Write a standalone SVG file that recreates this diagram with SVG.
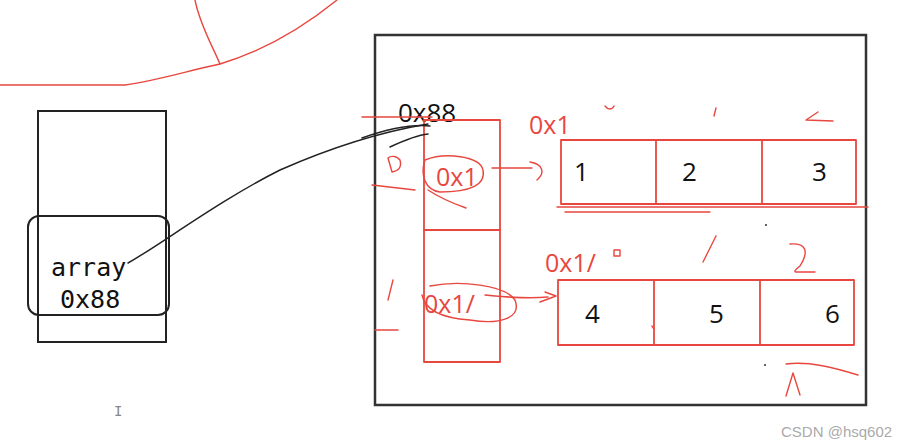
<svg xmlns="http://www.w3.org/2000/svg" width="910" height="445" viewBox="0 0 910 445">
<style>
.blk{fill:none;stroke:#222;stroke-width:2}
.red{fill:none;stroke:#e8473f;stroke-width:1.8;stroke-linecap:round;stroke-linejoin:round}
.redthin{fill:none;stroke:#e8473f;stroke-width:1.4;stroke-linecap:round;stroke-linejoin:round}
.ink{fill:none;stroke:#222;stroke-width:1.5;stroke-linecap:round}
.num{font-family:"Open Sans","Noto Sans",sans-serif;font-size:26px;fill:#111}
.rtxt{font-family:"Open Sans","Noto Sans",sans-serif;font-size:25px;fill:#e8473f}
.mono{font-family:"DejaVu Sans Mono",monospace;font-size:25px;fill:#111}
</style>
<rect width="910" height="445" fill="#fff"/>
<g id="sketch-top">
<path class="redthin" d="M0,85 L125,85 C160,80 190,70 220,64 C260,52 300,30 337,0"/>
<path class="redthin" d="M195,0 C200,25 212,45 220,64"/>
</g>
<g id="stack">
<rect x="38" y="111" width="128" height="231" class="blk"/>
<rect x="28" y="216" width="141" height="99" rx="11" class="blk"/>
<text x="51" y="276" class="mono">array</text>
<text x="60" y="308" class="mono">0x88</text>
</g>
<g id="heap">
<rect x="375" y="35" width="491" height="370" fill="none" stroke="#333" stroke-width="2.5"/>
<text x="398" y="122" font-family="Open Sans,Noto Sans,sans-serif" font-size="26" fill="#111">0x88</text>
</g>
<g id="outer-array">
<rect x="424" y="120" width="76" height="242" class="red"/>
<line x1="424" y1="230" x2="500" y2="230" class="red"/>
<text x="436" y="186" class="rtxt">0x1</text>
<text x="424" y="313" class="rtxt">0x1/</text>
</g>
<g id="row1">
<rect x="561" y="140" width="295" height="64" class="red"/>
<line x1="656" y1="140" x2="656" y2="204" class="red"/>
<line x1="762" y1="140" x2="762" y2="204" class="red"/>
<text x="529" y="134" class="rtxt">0x1</text>
<text x="574" y="181" class="num">1</text>
<text x="682" y="181" class="num">2</text>
<text x="812" y="181" class="num">3</text>
</g>
<g id="row2">
<rect x="558" y="280" width="296" height="65" class="red"/>
<line x1="654" y1="280" x2="654" y2="345" class="red"/>
<line x1="760" y1="280" x2="760" y2="345" class="red"/>
<text x="545" y="272" class="rtxt">0x1/</text>
<text x="585" y="323" class="num">4</text>
<text x="709" y="323" class="num">5</text>
<text x="825" y="323" class="num">6</text>
</g>
<g id="connectors">
<path class="ink" d="M128,263 C160,245 220,200 280,170 C330,148 380,132 428,124"/>
<path class="ink" d="M362,138 C385,130 410,124 430,126"/>
<path class="ink" d="M390,147 C405,140 418,135 428,134"/>
<path class="redthin" d="M492,168 L532,168 M530,162 C542,164 546,172 537,180"/>
<path class="redthin" d="M485,295 C505,297 525,299 548,297 M545,292 L556,296 L540,302"/>
</g>
<g id="scribbles">
<path class="redthin" d="M362,117 L432,117"/>
<path class="redthin" d="M388,158 L392,172 C398,171 402,168 400,160 C396,155 390,156 388,158"/>
<path class="redthin" d="M372,185 L415,190"/>
<path class="redthin" d="M425,160 C445,152 480,156 483,170 C486,185 470,192 440,192 C425,190 420,175 425,160"/>
<path class="redthin" d="M428,190 C440,198 452,203 466,208"/>
<path class="redthin" d="M430,286 C460,280 505,285 515,300 C522,318 500,325 470,320 C440,318 425,310 422,295"/>
<path class="redthin" d="M557,207 L868,207 M565,212 L710,212"/>
<path class="redthin" d="M605,106 C608,110 612,110 614,106"/>
<path class="redthin" d="M716,108 L714,116"/>
<path class="redthin" d="M818,112 L806,120 L833,121"/>
<path class="redthin" d="M716,236 L703,262"/>
<path class="redthin" d="M790,244 C805,243 810,250 800,266 C795,270 793,272 797,272 L815,272"/>
<path class="redthin" d="M614,250 L620,250 L620,256 L614,256 Z"/>
<path class="redthin" d="M393,280 L388,300 M375,330 L398,330"/>
<path class="redthin" d="M786,364 C810,361 835,368 858,375"/>
<path class="redthin" d="M786,396 L793,373 L800,395"/>
<path class="redthin" d="M652,326 L653,328"/>
<circle cx="766" cy="225" r="1" fill="#333"/>
<circle cx="765" cy="365" r="1" fill="#333"/>
</g>
<text x="114" y="416" font-family="DejaVu Sans Mono,monospace" font-size="14" fill="#888">I</text>
<text x="781" y="437" font-family="Liberation Sans,Arial,sans-serif" font-size="15" fill="#aaa">CSDN @hsq602</text>
</svg>
